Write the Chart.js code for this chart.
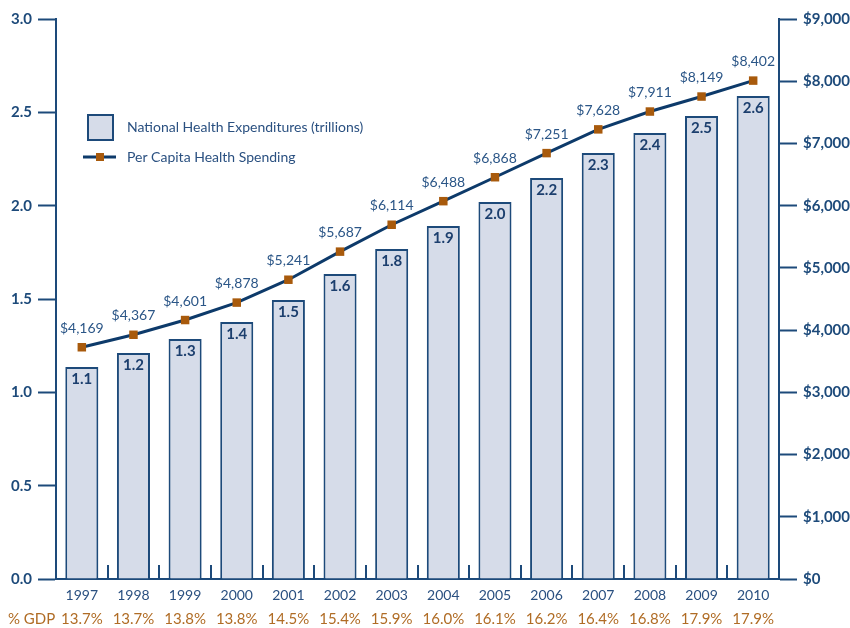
<!DOCTYPE html>
<html>
<head>
<meta charset="utf-8">
<script src="https://cdn.jsdelivr.net/npm/chart.js@4.4.1/dist/chart.umd.min.js"></script>
<style>
  html, body { margin: 0; padding: 0; background: #fff; }
  canvas { display: block; }
</style>
</head>
<body>
<canvas id="chart" width="850" height="628"></canvas>
<script>
const years = ['1997', '1998', '1999', '2000', '2001', '2002', '2003', '2004', '2005', '2006', '2007', '2008', '2009', '2010']
// bar heights, plus the labels printed inside them
const nheTrillions = [1.136, 1.211, 1.286, 1.377, 1.495, 1.634, 1.768, 1.891, 2.02, 2.148, 2.282, 2.389, 2.48, 2.587]
const nheLabels = ['1.1', '1.2', '1.3', '1.4', '1.5', '1.6', '1.8', '1.9', '2.0', '2.2', '2.3', '2.4', '2.5', '2.6']
const perCapita = [4169, 4367, 4601, 4878, 5241, 5687, 6114, 6488, 6868, 7251, 7628, 7911, 8149, 8402]
const gdpShare = ['13.7%', '13.7%', '13.8%', '13.8%', '14.5%', '15.4%', '15.9%', '16.0%', '16.1%', '16.2%', '16.4%', '16.8%', '17.9%', '17.9%']

const NAVY = '#1d4a7a'
const LINE = '#0d3a6a'
const BAR_FILL = '#d6dce9'
const ORANGE = '#a85a0c'
const GDP = '#b06c25'
const FONT = 'Lato, "DejaVu Sans", sans-serif'

Chart.defaults.font.family = FONT
Chart.defaults.color = NAVY

const dollars = v => '$' + v.toLocaleString('en-US')

const annotate = {
	id: 'annotate',
	afterDraw(chart) {
		const { ctx, chartArea, scales: { x } } = chart
		ctx.save()

		// small tick marks between categories, rising from the baseline
		ctx.strokeStyle = NAVY
		ctx.lineWidth = 2
		for (let i = 0; i < years.length - 1; i++) {
			const px = Math.round((x.getPixelForValue(i) + x.getPixelForValue(i + 1)) / 2)
			ctx.beginPath()
			ctx.moveTo(px, chartArea.bottom)
			ctx.lineTo(px, chartArea.bottom - 14)
			ctx.stroke()
		}

		// values inside the bars
		ctx.textAlign = 'center'
		ctx.textBaseline = 'middle'
		ctx.fillStyle = '#1c3f6e'
		ctx.font = 'bold 15px ' + FONT
		chart.getDatasetMeta(0).data.forEach((bar, i) => {
			ctx.fillText(nheLabels[i], bar.x, bar.y + 12)
		})

		// dollar labels above the line points
		ctx.fillStyle = '#2b5687'
		ctx.font = '14px ' + FONT
		chart.getDatasetMeta(1).data.forEach((pt, i) => {
			ctx.fillText(dollars(perCapita[i]), pt.x, pt.y - 19)
		})

		// legend
		ctx.fillStyle = BAR_FILL
		ctx.fillRect(87, 114, 27, 27)
		ctx.strokeStyle = NAVY
		ctx.lineWidth = 2
		ctx.strokeRect(88, 115, 25, 25)
		ctx.strokeStyle = LINE
		ctx.lineWidth = 3
		ctx.beginPath()
		ctx.moveTo(83, 157)
		ctx.lineTo(116, 157)
		ctx.stroke()
		ctx.fillStyle = ORANGE
		ctx.fillRect(96, 153, 8, 8)

		ctx.textAlign = 'left'
		ctx.fillStyle = '#2a5080'
		ctx.font = '14px ' + FONT
		ctx.fillText(chart.data.datasets[0].label, 127, 127)
		ctx.fillText(chart.data.datasets[1].label, 127, 157)

		// row title for the GDP share labels
		ctx.fillStyle = GDP
		ctx.font = '15px ' + FONT
		ctx.fillText('% GDP', 8, 619)
		ctx.restore()
	}
}

new Chart(document.getElementById('chart'), {
	data: {
		labels: years,
		datasets: [{
			type: 'bar',
			label: 'National Health Expenditures (trillions)',
			data: nheTrillions,
			backgroundColor: BAR_FILL,
			borderColor: NAVY,
			borderWidth: 2,
			barPercentage: 0.64,
			categoryPercentage: 1,
			yAxisID: 'y',
			order: 1
		}, {
			type: 'line',
			label: 'Per Capita Health Spending',
			data: perCapita,
			borderColor: LINE,
			borderWidth: 3,
			pointStyle: 'rect',
			pointRadius: 6,
			pointBorderWidth: 0,
			pointBackgroundColor: ORANGE,
			tension: 0,
			yAxisID: 'yLine',
			order: 0
		}]
	},
	options: {
		responsive: false,
		animation: false,
		devicePixelRatio: 1,
		layout: { padding: { top: 19, left: 0, right: 0, bottom: 0 } },
		plugins: { legend: { display: false }, tooltip: { enabled: false } },
		scales: {
			x: {
				type: 'category',
				position: 'bottom',
				offset: true,
				grid: { display: false, drawTicks: false },
				border: { display: true, color: NAVY, width: 2 },
				ticks: { padding: 8, color: '#2a5080', font: { size: 14 } },
				afterFit: s => { s.height = 30 }
			},
			xGdp: {
				type: 'category',
				position: 'bottom',
				labels: gdpShare,
				offset: true,
				weight: 1,
				grid: { display: false, drawTicks: false },
				border: { display: false },
				ticks: { padding: 1, color: GDP, font: { size: 15 } },
				afterFit: s => { s.height = 19 }
			},
			y: {
				position: 'left',
				min: 0,
				max: 3,
				grid: { drawOnChartArea: false, tickLength: 18, tickWidth: 2, tickColor: NAVY },
				border: { color: NAVY, width: 2 },
				ticks: { stepSize: 0.5, padding: 6, color: NAVY, font: { size: 15, weight: 'bold' }, callback: v => v.toFixed(1) },
				afterFit: s => { s.width = 56 }
			},
			yRight: {
				position: 'right',
				min: 0,
				max: 9000,
				grid: { drawOnChartArea: false, tickLength: 18, tickWidth: 2, tickColor: NAVY },
				border: { color: NAVY, width: 2 },
				ticks: { stepSize: 1000, padding: 6, color: NAVY, font: { size: 15, weight: 'bold' }, callback: v => dollars(v) },
				afterFit: s => { s.width = 71 }
			},
			// the line in the original sits on its own scale, not on the printed dollar axis
			yLine: {
				display: false,
				min: 490,
				max: 9380
			}
		}
	},
	plugins: [annotate]
})
</script>
</body>
</html>
